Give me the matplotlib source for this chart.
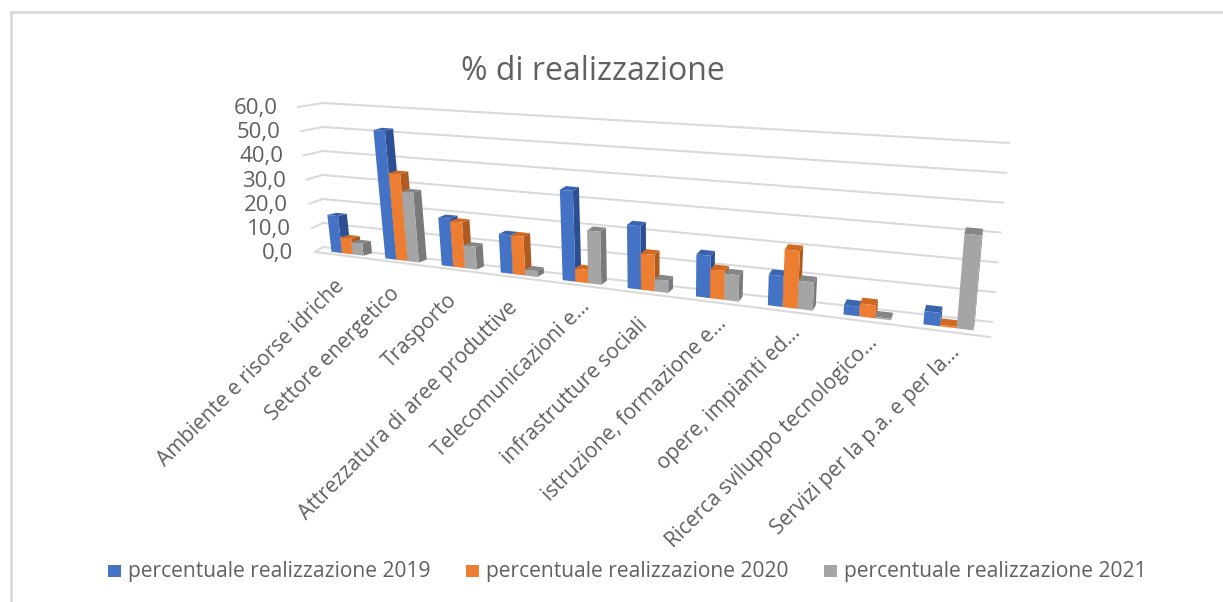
import matplotlib
matplotlib.use('Agg')
import matplotlib.pyplot as plt
from matplotlib.patches import Polygon, Rectangle

plt.rcParams['font.family'] = ['Open Sans', 'DejaVu Sans']

categories = ['Ambiente e risorse idriche', 'Settore energetico', 'Trasporto',
              'Attrezzatura di aree produttive', 'Telecomunicazioni e…',
              'infrastrutture sociali', 'istruzione, formazione e…',
              'opere, impianti ed…', 'Ricerca sviluppo tecnologico…',
              'Servizi per la p.a. e per la…']
series_names = ['percentuale realizzazione 2019', 'percentuale realizzazione 2020',
                'percentuale realizzazione 2021']
values_2019 = [15.2, 52.0, 19.0, 15.0, 34.5, 23.6, 15.4, 11.0, 3.3, 4.5]
values_2020 = [6.5, 35.0, 18.0, 15.0, 5.0, 13.5, 10.5, 20.5, 4.5, 0.5]
values_2021 = [5.0, 28.0, 9.0, 2.3, 20.0, 4.5, 9.5, 10.0, 0.5, 32.0]
y_ticks = [0, 10, 20, 30, 40, 50, 60]

face_colors = ['#4472C4', '#ED7D31', '#A5A5A5']
side_colors = ['#2B4F91', '#AE5A21', '#7A7A7A']
top_colors = ['#3A64B0', '#D06A22', '#868686']
text_color = '#606060'
grid_color = '#DADADA'

# angoli della scatola 3D in pixel: (lato, valore, profondita')
WALL = {('l', 0, 0): (315, 252), ('l', 60, 0): (298, 107),
        ('r', 0, 0): (990, 337), ('r', 60, 0): (1006, 158),
        ('l', 0, 1): (323, 247), ('l', 60, 1): (323, 103),
        ('r', 0, 1): (992, 322), ('r', 60, 1): (1009, 143)}
BARS = dict(WALL)
BARS[('l', 0, 1)] = (335, 247)
BARS[('l', 60, 1)] = (318, 103)

PERSP = 0.22
BAR_T0, BAR_T1 = 0.02, 0.08
BAR_D0, BAR_D1 = 0.3, 0.75


def mix(a, b, f):
    return (a[0] + (b[0] - a[0]) * f, a[1] + (b[1] - a[1]) * f)


def project(t, v, d, box=BARS):
    # t: 0-1 lungo l'asse categorie, v: valore, d: 0 fronte, 1 parete di fondo
    s = (1 - PERSP) * t / (1 - PERSP * t)
    left = mix(mix(box[('l', 0, 0)], box[('l', 60, 0)], v / 60),
               mix(box[('l', 0, 1)], box[('l', 60, 1)], v / 60), d)
    right = mix(mix(box[('r', 0, 0)], box[('r', 60, 0)], v / 60),
                mix(box[('r', 0, 1)], box[('r', 60, 1)], v / 60), d)
    return mix(left, right, s)


def draw_bar(ax, t0, t1, value, k):
    c = dict(
        fb0=project(t0, 0, BAR_D0), fb1=project(t1, 0, BAR_D0),
        ft0=project(t0, value, BAR_D0), ft1=project(t1, value, BAR_D0),
        bb1=project(t1, 0, BAR_D1), bt0=project(t0, value, BAR_D1),
        bt1=project(t1, value, BAR_D1))
    ax.add_patch(Polygon([c['fb1'], c['bb1'], c['bt1'], c['ft1']], fc=side_colors[k], ec='none', zorder=3))
    ax.add_patch(Polygon([c['ft0'], c['ft1'], c['bt1'], c['bt0']], fc=top_colors[k], ec='none', zorder=3))
    ax.add_patch(Polygon([c['fb0'], c['fb1'], c['ft1'], c['ft0']], fc=face_colors[k], ec='none', zorder=3))


fig = plt.figure(figsize=(12.23, 6.02), dpi=100)
ax = fig.add_axes([0, 0, 1, 1])
ax.set_xlim(0, 1223)
ax.set_ylim(602, 0)
ax.axis('off')

# cornice del grafico: a destra e in basso esce dall'immagine
ax.add_patch(Rectangle((11, 12), 1300, 700, fc='white', ec='#D9D9D9', lw=2, zorder=1))

ax.text(593, 71, '% di realizzazione', fontsize=23, color=text_color, ha='center', va='center')

# griglia
for v in y_ticks:
    p0 = project(0, v, 0, WALL)
    p1 = project(0, v, 1, WALL)
    p2 = project(1, v, 1, WALL)
    ax.plot([p0[0], p1[0], p2[0]], [p0[1], p1[1], p2[1]], color=grid_color, lw=1.5, zorder=2)
    ax.text(p0[0] - 22 + 2 * v / 60, p0[1] + 1.5, f'{v},0', fontsize=16, color=text_color, ha='right', va='center')
f0 = project(0, 0, 0, WALL)
f1 = project(1, 0, 0, WALL)
ax.plot([f0[0], f1[0]], [f0[1], f1[1]], color=grid_color, lw=1.5, zorder=2)

# barre
all_values = [values_2019, values_2020, values_2021]
for i, name in enumerate(categories):
    width = (BAR_T1 - BAR_T0) / 3
    for k, vals in enumerate(all_values):
        t0 = i / 10 + BAR_T0 + k * width
        draw_bar(ax, t0, t0 + width, vals[i], k)
    x, y = project(i / 10 + 0.05, 0, 0, WALL)
    # le etichette troncate finiscono piu' in alto lungo la diagonale
    dx, dy = (9, 18) if name.endswith('…') else (0, 28)
    ax.text(x + dx, y + dy, name, fontsize=15, color=text_color, rotation=45,
            rotation_mode='anchor', ha='right', va='center')

# legenda
legend_x = [108, 466, 824]
for x, name, col in zip(legend_x, series_names, face_colors):
    ax.add_patch(Rectangle((x, 565), 13, 12, fc=col, ec='none'))
    ax.text(x + 20, 572, name, fontsize=15.1, color=text_color, ha='left', va='center')

fig.savefig('out.png', dpi=100)
